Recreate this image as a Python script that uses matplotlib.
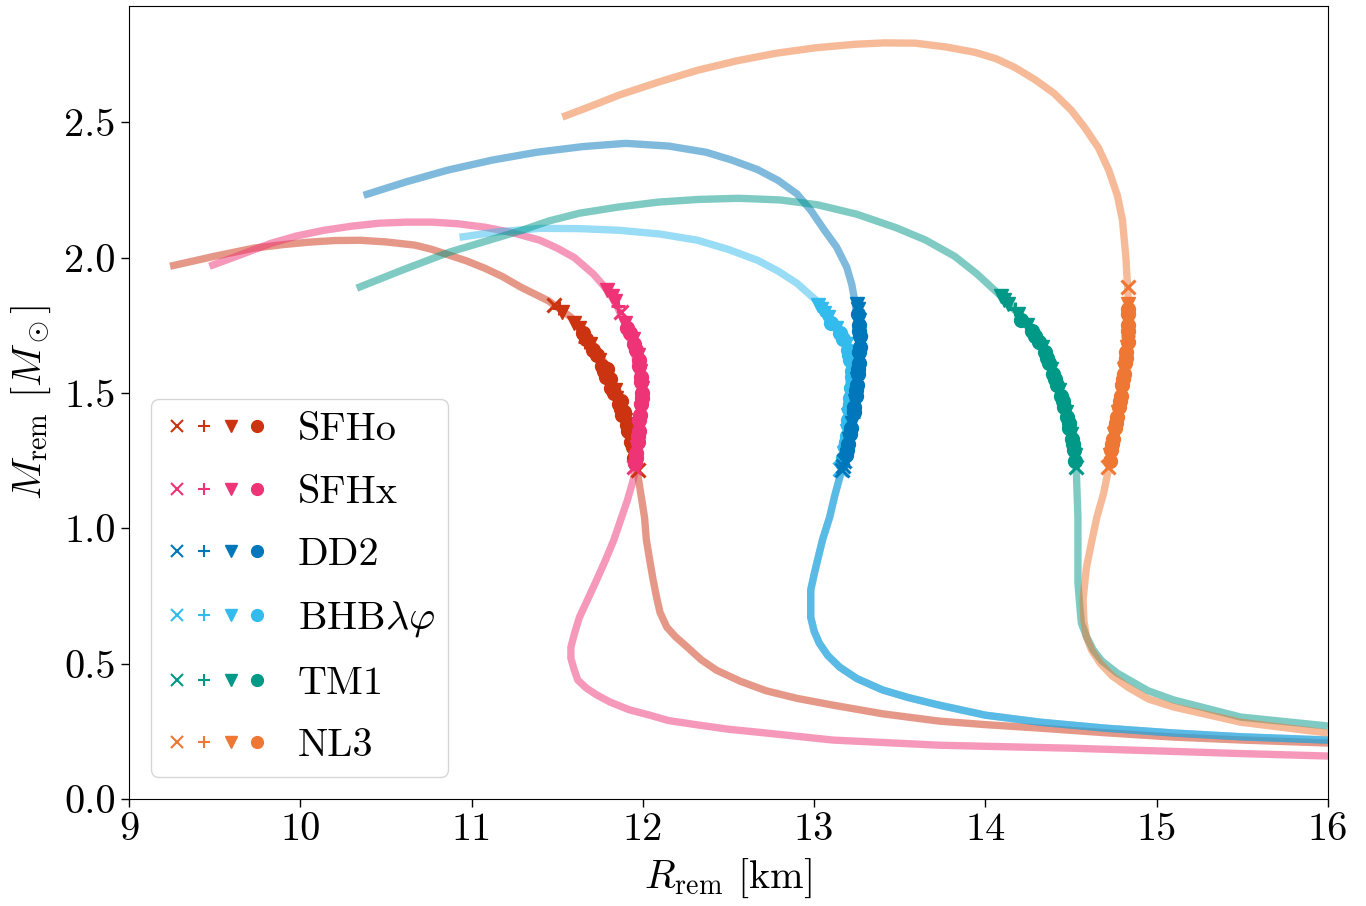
import matplotlib
matplotlib.use("Agg")
import matplotlib.pyplot as plt
from matplotlib.lines import Line2D
from matplotlib.legend_handler import HandlerTuple

plt.rcParams['font.family'] = 'serif'
plt.rcParams['font.serif'] = ['cmr10', 'DejaVu Serif']
plt.rcParams['mathtext.fontset'] = 'cm'
plt.rcParams['axes.unicode_minus'] = False
plt.rcParams['axes.formatter.use_mathtext'] = True

# ---------------- data ----------------
EOS_NAMES = ['SFHo', 'SFHx', 'DD2', r'BHB$\lambda\varphi$', 'TM1', 'NL3']
EOS_COLORS = ['#CC3311', '#EE3377', '#0077BB', '#33BBEE', '#009988', '#EE7733']

# M-R curves (low mass -> high mass)
SFHO_R = [16.0, 15.5, 15.1, 14.7, 14.32, 14.0, 13.73, 13.4, 13.11, 12.9, 12.72, 12.57, 12.43, 12.34,
          12.26, 12.19, 12.14, 12.10, 12.08, 12.06, 12.04, 12.02, 12.01, 11.99, 11.97, 11.95, 11.92,
          11.88, 11.82, 11.76, 11.70, 11.64, 11.58, 11.45, 11.29, 11.18, 11.08, 10.97, 10.87, 10.77,
          10.67, 10.50, 10.35, 10.20, 10.05, 9.90, 9.73, 9.50, 9.24]
SFHO_M = [0.207, 0.218, 0.229, 0.245, 0.262, 0.275, 0.288, 0.315, 0.347, 0.372, 0.40, 0.435, 0.476,
          0.515, 0.561, 0.60, 0.635, 0.69, 0.746, 0.81, 0.883, 0.96, 1.04, 1.12, 1.20, 1.27, 1.36,
          1.44, 1.55, 1.63, 1.69, 1.74, 1.78, 1.84, 1.89, 1.93, 1.96, 1.988, 2.009, 2.03,
          2.046, 2.058, 2.064, 2.063, 2.057, 2.048, 2.035, 2.005, 1.968]

SFHX_R = [16.0, 15.5, 15.0, 14.5, 14.0, 13.73, 13.11, 12.72, 12.5, 12.33, 12.15, 12.04, 11.92, 11.81,
          11.73, 11.67, 11.62, 11.60, 11.58, 11.58, 11.60, 11.63, 11.68, 11.73, 11.78, 11.83, 11.87,
          11.91, 11.94, 11.96, 11.98, 11.99, 11.99, 11.98, 11.96, 11.93, 11.90, 11.85, 11.80, 11.71,
          11.60, 11.50, 11.40, 11.24, 11.08, 10.92, 10.77, 10.62, 10.46, 10.30, 10.14, 9.98, 9.83,
          9.65, 9.47]
SFHX_M = [0.159, 0.168, 0.178, 0.188, 0.195, 0.199, 0.218, 0.244, 0.258, 0.273, 0.29, 0.31, 0.33,
          0.358, 0.385, 0.41, 0.44, 0.476, 0.52, 0.561, 0.61, 0.672, 0.74, 0.809, 0.88, 0.956, 1.03,
          1.104, 1.17, 1.22, 1.31, 1.40, 1.48, 1.55, 1.62, 1.69, 1.75, 1.82, 1.875, 1.94,
          2.0, 2.035, 2.064, 2.092, 2.112, 2.125, 2.131, 2.131, 2.127, 2.116, 2.101, 2.08, 2.053,
          2.01, 1.968]

DD2_R = [16.0, 15.5, 15.10, 14.7, 14.32, 14.0, 13.73, 13.55, 13.40, 13.25, 13.15, 13.08, 13.03,
         13.00, 12.98, 12.98, 12.98, 13.00, 13.02, 13.05, 13.09, 13.12, 13.15, 13.18, 13.21, 13.24,
         13.25, 13.26, 13.26, 13.25, 13.24, 13.22, 13.19, 13.13, 13.06, 12.98, 12.90, 12.79, 12.67,
         12.52, 12.37, 12.15, 11.90, 11.65, 11.38, 11.12, 10.86, 10.62, 10.37]
DD2_M = [0.218, 0.23, 0.244, 0.262, 0.284, 0.31, 0.347, 0.375, 0.403, 0.445, 0.487, 0.53, 0.576,
         0.62, 0.672, 0.72, 0.772, 0.83, 0.883, 0.96, 1.04, 1.12, 1.19, 1.26, 1.33, 1.42,
         1.51, 1.60, 1.695, 1.76, 1.83, 1.90, 1.965, 2.04, 2.101, 2.175, 2.235, 2.285, 2.325,
         2.36, 2.389, 2.412, 2.422, 2.41, 2.389, 2.36, 2.323, 2.28, 2.23]

BHB_R = [16.0, 15.5, 15.10, 14.7, 14.32, 14.0, 13.73, 13.55, 13.40, 13.25, 13.15, 13.08, 13.03,
         13.00, 12.98, 12.98, 12.98, 13.00, 13.02, 13.05, 13.09, 13.12, 13.15, 13.16, 13.19, 13.21,
         13.22, 13.19, 13.11, 13.03, 12.90, 12.79, 12.67, 12.50, 12.32, 12.10, 11.86, 11.63, 11.40,
         11.15, 10.93]
BHB_M = [0.218, 0.23, 0.244, 0.262, 0.284, 0.31, 0.347, 0.375, 0.403, 0.445, 0.487, 0.53, 0.576,
         0.62, 0.672, 0.72, 0.772, 0.83, 0.883, 0.96, 1.04, 1.12, 1.19, 1.241, 1.326, 1.448,
         1.573, 1.684, 1.758, 1.832, 1.905, 1.95, 1.99, 2.03, 2.064, 2.087, 2.101, 2.107, 2.108,
         2.095, 2.075]

TM1_R = [16.0, 15.49, 15.10, 14.95, 14.77, 14.68, 14.63, 14.59, 14.56, 14.55, 14.54, 14.54, 14.54,
         14.535, 14.53, 14.51, 14.46, 14.39, 14.32, 14.22, 14.07, 13.95, 13.82, 13.65, 13.48, 13.25,
         13.02, 12.80, 12.56, 12.33, 12.09, 11.86, 11.63, 11.45, 11.29, 11.08, 10.87, 10.60, 10.33]
TM1_M = [0.27, 0.303, 0.366, 0.40, 0.465, 0.51, 0.55, 0.60, 0.65, 0.72, 0.80, 0.92, 1.04,
         1.13, 1.226, 1.326, 1.448, 1.573, 1.695, 1.775, 1.87, 1.94, 2.005, 2.065, 2.11, 2.16,
         2.195, 2.213, 2.219, 2.215, 2.205, 2.187, 2.164, 2.135, 2.10, 2.06, 2.02, 1.955, 1.887]

NL3_R = [16.0, 15.49, 15.10, 14.95, 14.83, 14.74, 14.67, 14.62, 14.59, 14.575, 14.57, 14.58, 14.59,
         14.62, 14.65, 14.69, 14.72, 14.74, 14.76, 14.78, 14.80, 14.82, 14.83, 14.835, 14.835, 14.83,
         14.82, 14.80, 14.77, 14.72, 14.66, 14.58, 14.50, 14.40, 14.29, 14.17, 14.06, 13.94, 13.77,
         13.59, 13.41, 13.24, 13.01, 12.78, 12.55, 12.32, 12.09, 11.86, 11.70, 11.53]
NL3_M = [0.244, 0.284, 0.34, 0.37, 0.414, 0.455, 0.502, 0.55, 0.598, 0.66, 0.735, 0.80, 0.857,
         0.95, 1.04, 1.13, 1.222, 1.30, 1.39, 1.45, 1.51, 1.60, 1.67, 1.75, 1.83, 1.89,
         2.00, 2.138, 2.23, 2.323, 2.405, 2.48, 2.545, 2.607, 2.657, 2.703, 2.735, 2.758, 2.778,
         2.792, 2.793, 2.788, 2.775, 2.755, 2.727, 2.692, 2.648, 2.60, 2.56, 2.519]

# remnant points: radius, mass, kind
SFHO_PR = [11.48, 11.51, 11.53, 11.60, 11.63, 11.65, 11.67, 11.66, 11.69, 11.71, 11.73, 11.745, 11.76,
           11.775, 11.785, 11.80, 11.815, 11.83, 11.845, 11.86, 11.87, 11.88, 11.895, 11.905, 11.915,
           11.925, 11.93, 11.94, 11.945, 11.95, 11.955, 11.97,
           11.79, 11.81, 11.84, 11.87, 11.89, 11.915, 11.935]
SFHO_PM = [1.825, 1.815, 1.80, 1.76, 1.74, 1.72, 1.70, 1.69, 1.68, 1.66, 1.64, 1.62, 1.60,
           1.58, 1.56, 1.54, 1.52, 1.50, 1.48, 1.46, 1.44, 1.42, 1.40, 1.38, 1.36,
           1.34, 1.32, 1.30, 1.28, 1.26, 1.24, 1.215,
           1.59, 1.55, 1.51, 1.47, 1.43, 1.39, 1.35]
SFHO_PK = ['x', '+', 'v', 'v', 'v', 'o', 'o', '+', 'v', 'o', 'o', 'v', 'o',
           'o', 'o', 'v', 'o', 'o', 'v', 'o', 'o', 'o', 'v', 'o', 'o',
           'v', 'o', 'o', 'v', 'o', 'o', 'x',
           'o', 'o', 'v', 'o', 'o', 'o', 'o']

SFHX_PR = [11.79, 11.82, 11.84, 11.855, 11.87, 11.895, 11.91, 11.925, 11.94, 11.95, 11.96, 11.97,
           11.975, 11.98, 11.985, 11.99, 11.99, 11.995, 11.995, 11.995, 11.99, 11.99, 11.985, 11.98,
           11.98, 11.975, 11.97, 11.97, 11.965, 11.96, 11.96, 11.955, 11.95]
SFHX_PM = [1.88, 1.86, 1.84, 1.82, 1.80, 1.76, 1.74, 1.72, 1.70, 1.68, 1.66, 1.64,
           1.62, 1.60, 1.58, 1.56, 1.54, 1.52, 1.50, 1.48, 1.46, 1.44, 1.42, 1.40,
           1.38, 1.36, 1.34, 1.32, 1.30, 1.28, 1.26, 1.24, 1.225]
SFHX_PK = ['v', 'v', 'v', '+', 'x', 'v', 'o', 'o', 'v', 'o', 'o', 'v',
           'o', 'o', 'v', 'o', 'o', 'v', 'o', 'o', 'o', 'v', 'o', 'o',
           'v', 'o', 'o', 'o', 'v', 'o', 'o', 'o', 'x']

DD2_PR = [13.25, 13.255, 13.255, 13.26, 13.26, 13.26, 13.265, 13.265, 13.265, 13.26, 13.26, 13.26,
          13.255, 13.255, 13.25, 13.25, 13.245, 13.245, 13.24, 13.235, 13.23, 13.225, 13.22, 13.215,
          13.21, 13.205, 13.20, 13.19, 13.185, 13.175, 13.17, 13.16]
DD2_PM = [1.83, 1.81, 1.79, 1.77, 1.75, 1.73, 1.71, 1.69, 1.67, 1.65, 1.63, 1.61,
          1.59, 1.57, 1.55, 1.53, 1.51, 1.49, 1.47, 1.45, 1.43, 1.41, 1.39, 1.37,
          1.35, 1.33, 1.31, 1.29, 1.27, 1.25, 1.23, 1.215]
DD2_PK = ['v', 'v', 'o', 'v', 'o', 'o', 'o', 'v', 'o', 'o', 'v', 'o',
          'o', 'o', 'v', 'o', 'o', 'o', 'v', 'o', 'o', '+', 'v', 'o',
          'o', 'v', 'o', 'o', 'o', 'x', 'x', 'x']

BHB_PR = [13.02, 13.04, 13.06, 13.08, 13.10, 13.13, 13.15, 13.17, 13.185, 13.195, 13.205, 13.21,
          13.215, 13.22, 13.22, 13.22, 13.215, 13.215, 13.21, 13.21, 13.205, 13.20, 13.20, 13.195,
          13.19, 13.19, 13.185, 13.18, 13.175, 13.17, 13.16, 13.15]
BHB_PM = [1.825, 1.81, 1.795, 1.78, 1.76, 1.74, 1.72, 1.70, 1.68, 1.66, 1.64, 1.62,
          1.60, 1.58, 1.56, 1.54, 1.52, 1.50, 1.48, 1.46, 1.44, 1.42, 1.40, 1.38,
          1.36, 1.34, 1.32, 1.30, 1.28, 1.26, 1.24, 1.22]
BHB_PK = ['v', 'v', 'v', 'v', 'o', 'v', 'o', 'o', 'v', 'o', 'o', 'o',
          'v', 'o', 'o', '+', 'o', 'v', 'o', 'o', 'o', 'v', 'o', 'o',
          'v', 'o', 'o', 'o', 'v', 'o', 'o', 'x']

TM1_PR = [14.09, 14.11, 14.13, 14.17, 14.19, 14.21, 14.245, 14.27, 14.29, 14.31, 14.33, 14.345,
          14.36, 14.37, 14.385, 14.395, 14.405, 14.42, 14.43, 14.44, 14.45, 14.46, 14.47, 14.475,
          14.485, 14.49, 14.50, 14.505, 14.51, 14.515, 14.52, 14.525, 14.53]
TM1_PM = [1.86, 1.845, 1.83, 1.81, 1.79, 1.77, 1.75, 1.73, 1.71, 1.69, 1.67, 1.65,
          1.63, 1.61, 1.59, 1.57, 1.55, 1.53, 1.51, 1.49, 1.47, 1.45, 1.43, 1.41,
          1.39, 1.37, 1.35, 1.33, 1.31, 1.29, 1.27, 1.25, 1.225]
TM1_PK = ['v', 'v', 'v', '+', 'v', 'o', 'v', 'o', 'o', 'o', 'v', 'o',
          'o', 'o', 'v', 'o', 'o', 'o', 'v', 'o', 'o', 'o', 'v', 'o',
          'o', 'o', 'v', 'o', 'o', 'o', 'v', 'o', 'x']

NL3_PR = [14.83, 14.835, 14.835, 14.835, 14.835, 14.835, 14.83, 14.83, 14.83, 14.825, 14.82, 14.82,
          14.815, 14.81, 14.81, 14.805, 14.80, 14.795, 14.79, 14.785, 14.78, 14.775, 14.77, 14.76,
          14.755, 14.75, 14.745, 14.74, 14.735, 14.73, 14.725, 14.715]
NL3_PM = [1.89, 1.83, 1.81, 1.79, 1.77, 1.75, 1.73, 1.71, 1.69, 1.67, 1.65, 1.63,
          1.61, 1.59, 1.57, 1.55, 1.53, 1.51, 1.49, 1.47, 1.45, 1.43, 1.41, 1.39,
          1.37, 1.35, 1.33, 1.31, 1.29, 1.27, 1.25, 1.225]
NL3_PK = ['x', 'v', 'o', 'o', 'v', 'o', 'o', '+', 'o', 'v', 'o', 'o',
          'o', 'v', 'o', 'o', 'o', 'v', 'o', 'o', 'o', 'v', 'o', 'o',
          'o', 'v', 'o', 'o', 'o', 'v', 'o', 'x']

CURVES = [(SFHO_R, SFHO_M), (SFHX_R, SFHX_M), (DD2_R, DD2_M),
          (BHB_R, BHB_M), (TM1_R, TM1_M), (NL3_R, NL3_M)]
POINTS = [(SFHO_PR, SFHO_PM, SFHO_PK), (SFHX_PR, SFHX_PM, SFHX_PK),
          (DD2_PR, DD2_PM, DD2_PK), (BHB_PR, BHB_PM, BHB_PK),
          (TM1_PR, TM1_PM, TM1_PK), (NL3_PR, NL3_PM, NL3_PK)]
KINDS = ['x', '+', 'v', 'o']

# ---------------- plot ----------------
fig = plt.figure(figsize=(13.66, 9.06), dpi=100)
ax = fig.add_axes([0.0944, 0.118, 0.8778, 0.875])

FS = 29
ms = 10
for (r, m), col in zip(CURVES, EOS_COLORS):
    ax.plot(r, m, color=col, lw=5.3, alpha=0.5, solid_capstyle='butt', zorder=2)

marker_order = [0, 1, 3, 2, 4, 5]
for i in marker_order:
    pr, pm, pk = POINTS[i]
    col = EOS_COLORS[i]
    for kind in ['o', 'v', '+', 'x']:
        rr = [a for a, k in zip(pr, pk) if k == kind]
        mm = [b for b, k in zip(pm, pk) if k == kind]
        mew = 2.2 if kind in ('x', '+') else 1.0
        ax.plot(rr, mm, ls='none', marker=kind, color=col, ms=ms, mew=mew, zorder=3)

ax.set_xlim(9, 16)
ax.set_ylim(0, 2.928)
ax.set_xticks([9, 10, 11, 12, 13, 14, 15, 16])
ax.set_yticks([0.0, 0.5, 1.0, 1.5, 2.0, 2.5])
ax.set_yticklabels(['0.0', '0.5', '1.0', '1.5', '2.0', '2.5'])
ax.set_xticklabels(['9', '10', '11', '12', '13', '14', '15', '16'])
ax.tick_params(labelsize=FS, length=6, width=1, direction='out')
ax.set_xlabel(r'$R_{\rm rem}$ [km]', fontsize=FS, labelpad=6)
ax.set_ylabel(r'$M_{\rm rem}$ $[M_\odot]$', fontsize=FS, labelpad=8)

handles = []
for col in EOS_COLORS:
    hs = []
    for kind in KINDS:
        mew = 1.5 if kind in ('x', '+') else 1.0
        hs.append(Line2D([], [], ls='none', marker=kind, color=col, ms=8.5, mew=mew))
    handles.append(tuple(hs))

leg = ax.legend(handles, EOS_NAMES, handler_map={tuple: HandlerTuple(ndivide=None, pad=0)},
                loc='lower left', fontsize=FS, handlelength=2.65, handletextpad=0.67,
                labelspacing=0.65, borderaxespad=0.55, borderpad=0.32, framealpha=0.8)

fig.savefig('out.png', dpi=100)
